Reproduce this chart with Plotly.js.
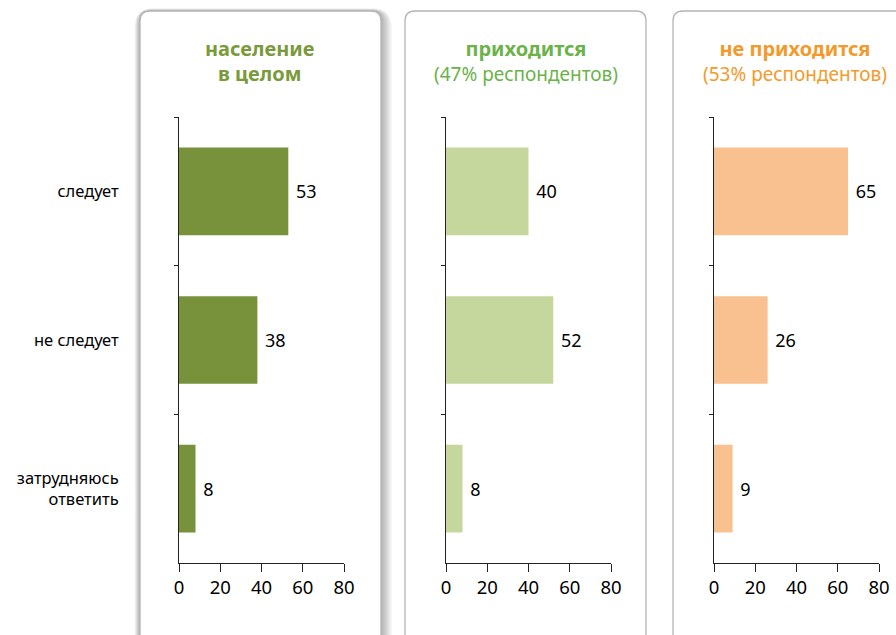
<!DOCTYPE html>
<html><head><meta charset="utf-8">
<script src="https://cdn.plot.ly/plotly-3.0.1.min.js"></script>
<style>html,body{margin:0;padding:0;background:#fff}</style>
</head><body><div id="chart" style="width:896px;height:635px"></div>
<script>
// ---- data ----
const categories = ["следует", "не следует", "затрудняюсь<br>ответить"];
const allValues = [53, 38, 8];
const haveToValues = [40, 52, 8];
const notHaveToValues = [65, 26, 9];
const xTickVals = [0, 20, 40, 60, 80];
const panelTitles = ["<b><span style='font-size:20px'>население</span></b><br><b><span style='font-size:20px'>в целом</span></b>",
                     "<b><span style='font-size:20px'>приходится</span></b><br>(47% респондентов)",
                     "<b><span style='font-size:20px'>не приходится</span></b><br>(53% респондентов)"];

// ---- geometry helpers ----
const W = 896, H = 635;
const px = x => x / W;
const py = y => 1 - y / H;
function rrect(x0, y0, x1, y1, r) {
  const rx = r / W, ry = r / H;
  const X0 = px(x0), X1 = px(x1), Y0 = py(y0), Y1 = py(y1); // Y0 top
  return `M ${X0 + rx},${Y0} L ${X1 - rx},${Y0} Q ${X1},${Y0} ${X1},${Y0 - ry} ` +
         `L ${X1},${Y1 + ry} Q ${X1},${Y1} ${X1 - rx},${Y1} L ${X0 + rx},${Y1} ` +
         `Q ${X0},${Y1} ${X0},${Y1 + ry} L ${X0},${Y0 - ry} Q ${X0},${Y0} ${X0 + rx},${Y0} Z`;
}

const font = "Noto Sans, Open Sans, sans-serif";
const colors = ["#78923b", "#c5d79d", "#f9c190"];
const titleColors = ["#7a9a3c", "#6cb24b", "#f39a2b"];
const series = [allValues, haveToValues, notHaveToValues];
const xDom = [[179, 344], [446, 611], [714, 879]];
const titleX = [259, 526, 795];

const traces = series.map((vals, i) => ({
  type: "bar", orientation: "h",
  x: vals, y: categories,
  xaxis: i === 0 ? "x" : "x" + (i + 1),
  yaxis: i === 0 ? "y" : "y" + (i + 1),
  marker: {color: colors[i]},
  text: vals.map(v => " " + v), textposition: "outside",
  textfont: {family: font, size: 18, color: "#000"},
  cliponaxis: false, hoverinfo: "skip", showlegend: false
}));

const shapes = [];
// shadow for panel 1
for (let k = 1; k <= 9; k++) {
  shapes.push({type: "path", xref: "paper", yref: "paper", layer: "below",
    path: rrect(140 - k * 0.6, 11 - k * 0.3, 381 + k * 1.2, 660, 10 + k),
    fillcolor: "rgba(0,0,0,0.035)", line: {width: 0}});
}
const panels = [[140, 381], [405, 646], [673, 930]];
panels.forEach(p => {
  shapes.push({type: "path", xref: "paper", yref: "paper", layer: "below",
    path: rrect(p[0], 11, p[1], 660, 10),
    fillcolor: "#ffffff", line: {color: "#b4b4b4", width: 1.3}});
});

const layout = {
  width: W, height: H,
  margin: {l: 0, r: 0, t: 0, b: 0},
  paper_bgcolor: "#ffffff", plot_bgcolor: "rgba(0,0,0,0)",
  bargap: 0.41,
  font: {family: font, color: "#000"},
  shapes: shapes,
  annotations: panelTitles.map((t, i) => ({
    xref: "paper", yref: "paper", x: px(titleX[i]), y: py(61),
    xanchor: "center", yanchor: "middle", showarrow: false,
    text: t, align: "center",
    font: {family: font, size: 19, color: titleColors[i]}
  }))
};

for (let i = 0; i < 3; i++) {
  const xs = i === 0 ? "" : String(i + 1);
  layout["xaxis" + xs] = {
    domain: [px(xDom[i][0]), px(xDom[i][1])], range: [0, 80],
    anchor: "y" + xs, tickvals: xTickVals, ticks: "outside", ticklen: 8,
    tickcolor: "#222", showline: true, linecolor: "#222", linewidth: 1,
    showgrid: false, zeroline: false, fixedrange: true,
    tickfont: {family: font, size: 18.5, color: "#000"}
  };
  layout["yaxis" + xs] = {
    domain: [py(563), py(117)], anchor: "x" + xs,
    type: "category", categoryorder: "array", categoryarray: categories,
    range: [2.5, -0.5], tickson: "boundaries", ticks: "outside", ticklen: 4,
    tickcolor: "#222", showline: true, linecolor: "#222", linewidth: 1,
    showgrid: false, zeroline: false, fixedrange: true,
    showticklabels: i === 0, ticklabelstandoff: 56,
    tickfont: {family: font, size: 16.5, color: "#000"}
  };
}

Plotly.newPlot("chart", traces, layout, {displayModeBar: false, staticPlot: true});
</script></body></html>
